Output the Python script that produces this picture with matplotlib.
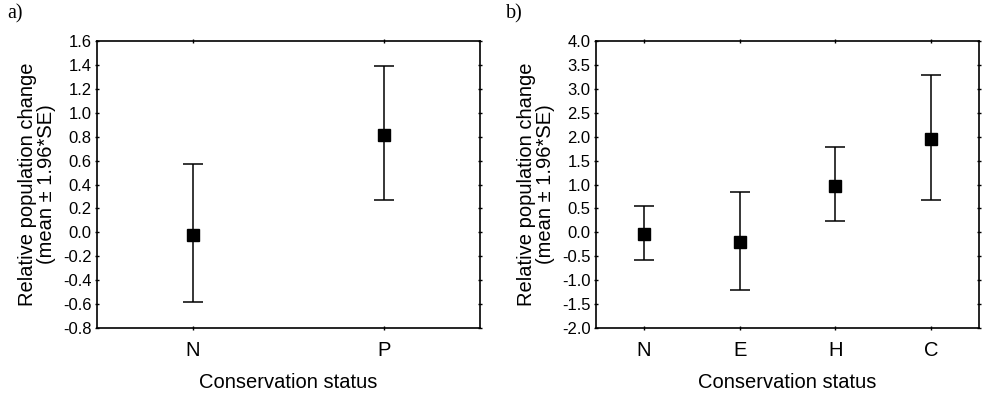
import matplotlib
matplotlib.use("Agg")
import matplotlib.pyplot as plt
import numpy as np

# Panel a data
cats_a = ["N", "P"]
mean_a = [-0.02, 0.81]
upper_a = [0.57, 1.39]
lower_a = [-0.585, 0.27]

# Panel b data
cats_b = ["N", "E", "H", "C"]
mean_b = [-0.04, -0.21, 0.97, 1.95]
upper_b = [0.557, 0.842, 1.79, 3.28]
lower_b = [-0.571, -1.198, 0.244, 0.675]

plt.rcParams["font.family"] = ["Liberation Sans", "DejaVu Sans"]


def draw_panel(ax, cats, mean, upper, lower, ylim, yticks, letter):
    """ Draw one mean +/- CI panel. """
    x = np.arange(len(cats))
    mean = np.array(mean)
    yerr = [mean - np.array(lower), np.array(upper) - mean]
    ax.errorbar(x, mean, yerr=yerr, fmt="s", color="black", ecolor="black",
                markersize=8.5, elinewidth=1.1, capsize=7.5, capthick=1.1)
    ax.set_xlim(-0.5, len(cats) - 0.5)
    ax.set_ylim(*ylim)
    ax.set_xticks(x)
    ax.set_xticklabels(cats, fontsize=14.5)
    ax.set_yticks(yticks)
    ax.set_yticklabels([f"{v + 0.0:.1f}".replace("-0.0", "0.0") for v in yticks],
                       fontsize=12)
    ax.tick_params(direction="inout", length=3, width=1, top=True, right=True,
                   pad=2.5)
    ax.tick_params(axis="x", pad=8)
    for s in ax.spines.values():
        s.set_linewidth(1.2)
    ax.set_xlabel("Conservation status", fontsize=14.5, labelpad=9)
    ax.set_ylabel("Relative population change\n(mean \u00b1 1.96*SE)",
                  fontsize=14.5, labelpad=5, linespacing=1.0)
    ax.text(-0.235, 1.095, letter, transform=ax.transAxes, fontsize=14.5,
            family="Liberation Serif", va="center", ha="left")


fig = plt.figure(figsize=(9.83, 3.94), dpi=100)
ax_a = fig.add_axes([0.0987, 0.1675, 0.3896, 0.7284])
ax_b = fig.add_axes([0.6063, 0.1675, 0.3896, 0.7284])

draw_panel(ax_a, cats_a, mean_a, upper_a, lower_a, (-0.8, 1.6),
           np.round(np.arange(-0.8, 1.61, 0.2), 1), "a)")
draw_panel(ax_b, cats_b, mean_b, upper_b, lower_b, (-2.0, 4.0),
           np.round(np.arange(-2.0, 4.01, 0.5), 1), "b)")

fig.savefig("out.png", dpi=100)
